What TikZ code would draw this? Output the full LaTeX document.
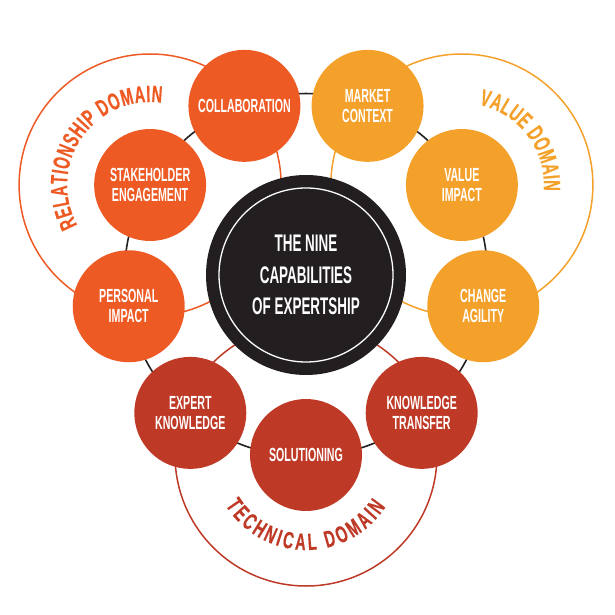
\documentclass[tikz,border=0pt]{standalone}
\usepackage{fontspec}
\newfontfamily\capfont{Liberation Sans}[FakeStretch=0.56]
\newfontfamily\domfont{Liberation Sans}[FakeStretch=0.62, FakeBold=0.5]
\usetikzlibrary{backgrounds,decorations.text}
\definecolor{relorange}{HTML}{EE5A24}
\definecolor{valamber}{HTML}{F4A12B}
\definecolor{techred}{HTML}{BE3A27}
\definecolor{hubblack}{HTML}{231F20}
\tikzset{
  capnode/.style={circle, minimum size=112pt, inner sep=0pt, text=white, align=center,
    font=\capfont\bfseries\fontsize{19}{20}\selectfont},
  relnode/.style={capnode, fill=relorange},
  valnode/.style={capnode, fill=valamber},
  technode/.style={capnode, fill=techred},
  hubnode/.style={circle, minimum size=200pt, inner sep=0pt, fill=hubblack, text=white, align=center,
    font=\capfont\bfseries\fontsize{24}{31.5}\selectfont},
  ringlink/.style={line width=1.6pt, hubblack},
  domring/.style={line width=1.5pt}
}
\newcommand\domstyle{\domfont\bfseries\fontsize{23.5}{23.5}\selectfont}

\begin{document}
\begin{tikzpicture}[x=1pt,y=1pt]
\useasboundingbox (-306,-340) rectangle (308,275);
\node[hubnode] (hub) at (0,0) {THE NINE\\CAPABILITIES\\OF EXPERTSHIP};
\draw[white, line width=1.3pt] (hub) circle (87pt);
\node[relnode] (collab) at (110:180pt) {COLLABORATION};
\node[relnode] (stake) at (150:180pt) {STAKEHOLDER\\ENGAGEMENT};
\node[relnode] (personal) at (190:180pt) {PERSONAL\\IMPACT};
\node[technode] (expert) at (230:180pt) {EXPERT\\KNOWLEDGE};
\node[technode] (solution) at (270:180pt) {SOLUTIONING};
\node[technode] (transfer) at (310:180pt) {KNOWLEDGE\\TRANSFER};
\node[valnode] (agility) at (350:180pt) {CHANGE\\AGILITY};
\node[valnode] (value) at (30:180pt) {VALUE\\IMPACT};
\node[valnode] (market) at (70:180pt) {MARKET\\CONTEXT};
\begin{scope}[on background layer]
\draw[domring, relorange] (stake) circle (131pt);
\draw[domring, valamber] (value) circle (131pt);
\draw[domring, techred] (solution) circle (131pt);
\foreach \a/\b in {collab/market, market/value, value/agility, agility/transfer, transfer/solution,
  solution/expert, expert/personal, personal/stake, stake/collab}
  \draw[ringlink] (\a.center) to[bend left=20] (\b.center);
\end{scope}
\path[decorate, decoration={text along path, text align=fit to path,
  text={|\domstyle\color{relorange}|RELATIONSHIP DOMAIN}}]
  (stake) ++(209:83pt) arc[start angle=209, end angle=82, radius=83pt];
\path[decorate, decoration={text along path, text align=fit to path,
  text={|\domstyle\color{valamber}|VALUE DOMAIN}}]
  (value) ++(78:82pt) arc[start angle=78, end angle=-4, radius=82pt];
\path[decorate, decoration={text along path, text align=fit to path,
  text={|\domstyle\color{techred}|TECHNICAL DOMAIN}}]
  (solution) ++(212:95pt) arc[start angle=212, end angle=327, radius=95pt];
\end{tikzpicture}
\end{document}
